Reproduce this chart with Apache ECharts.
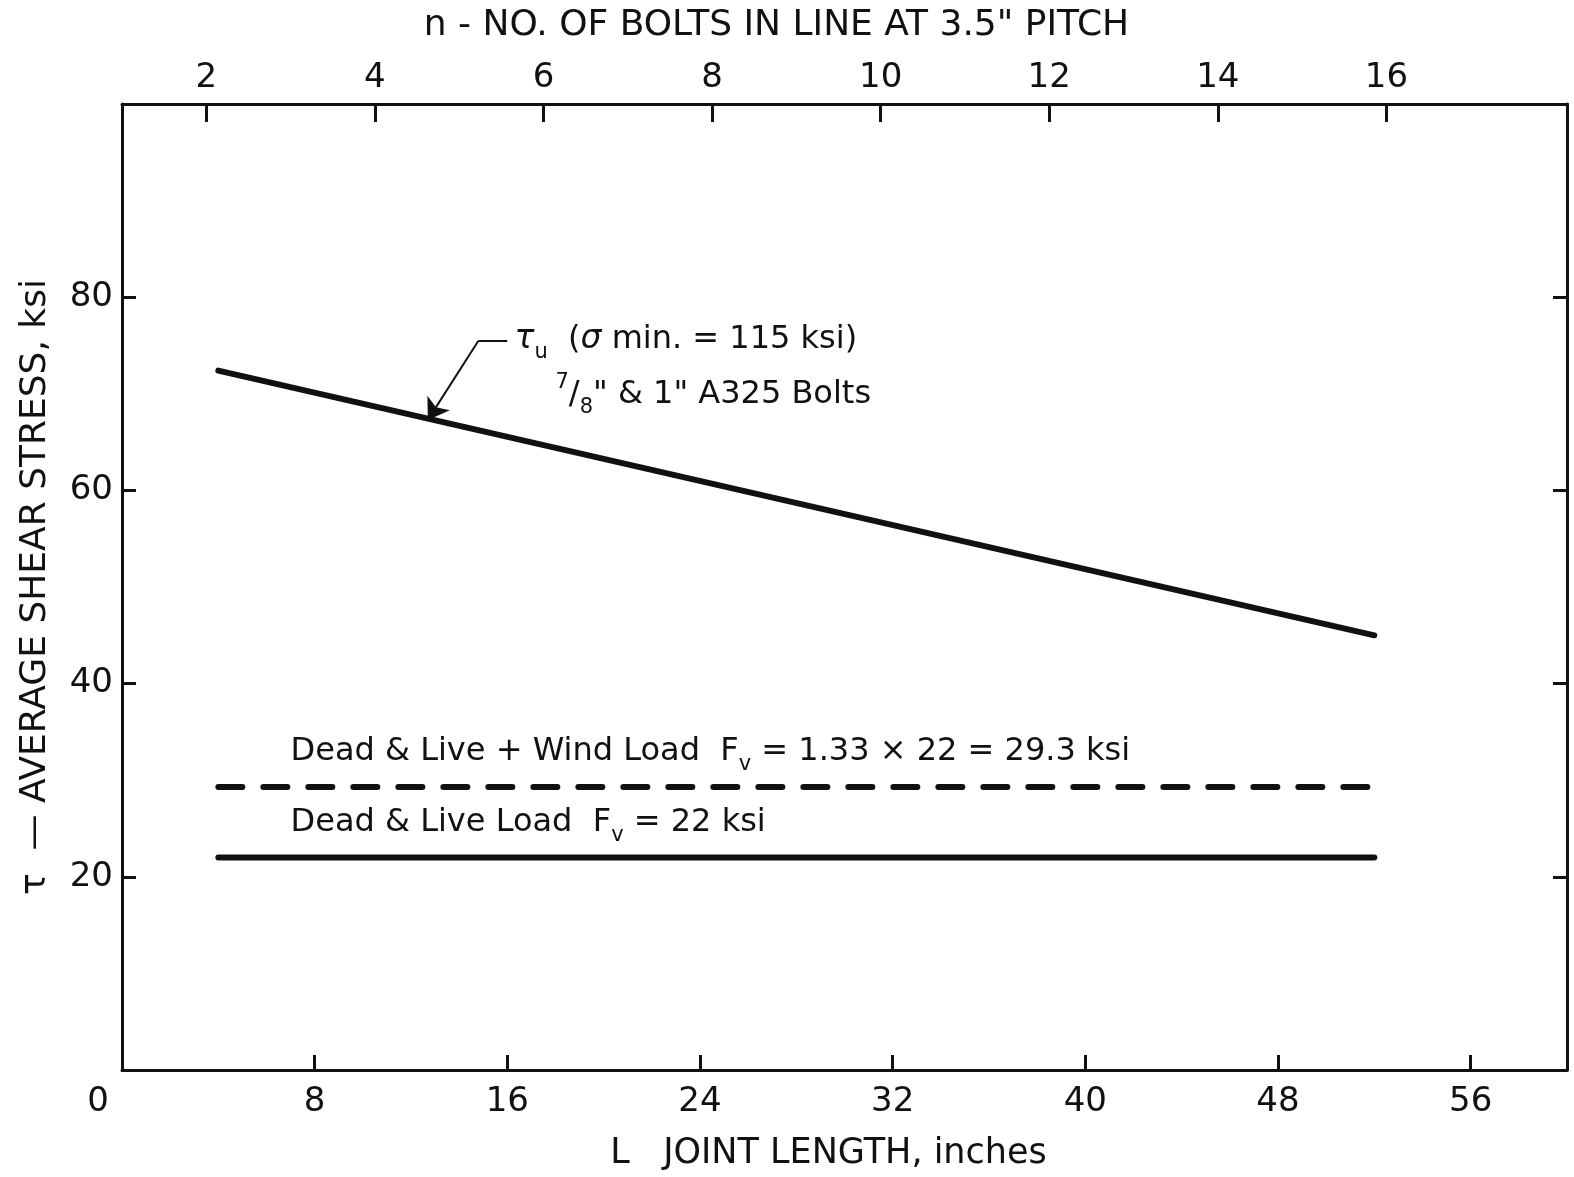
<!DOCTYPE html>
<html>
<head>
<meta charset="utf-8">
<title>Average shear stress vs joint length</title>
<script src="https://cdn.jsdelivr.net/npm/echarts@6/dist/echarts.min.js"></script>
<style>
  html, body { margin: 0; padding: 0; background: #fff; }
  #chart { width: 1574px; height: 1177px; }
</style>
</head>
<body>
<div id="chart"></div>
<script>
// joint length L (inches) at the ends of each line
const jointLength = [4, 52];
const tauUltimate = [72.4, 45.0];   // tau_u, 7/8" & 1" A325
const windLoadFv = [29.3, 29.3];    // 1.33 x 22
const deadLiveFv = [22, 22];
// top axis: bolts in line at 3.5" pitch
const boltCounts = [2, 4, 6, 8, 10, 12, 14, 16];
const pitch = 3.5;
const lengthMax = 60;

const font = '"DejaVu Sans", sans-serif';
const ink = '#111';

function pairs(xs, ys) {
  return xs.map((x, i) => [x, ys[i]]);
}

const axisLine = { show: true, onZero: false, lineStyle: { color: ink, width: 3 } };
const tickStyle = { color: ink, width: 3 };
const labelStyle = { fontFamily: font, fontSize: 34, color: ink };
const titleStyle = { fontFamily: font, fontSize: 35, color: ink };

const chart = echarts.init(document.getElementById('chart'));
chart.setOption({
  backgroundColor: '#fff',
  animation: false,
  grid: { left: 122, right: 7, top: 104, bottom: 107 },
  xAxis: [
    {
      type: 'value',
      position: 'bottom',
      min: 0,
      max: lengthMax,
      interval: 8,
      name: 'L   JOINT LENGTH, inches',
      nameLocation: 'middle',
      nameGap: 66,
      nameTextStyle: { ...titleStyle, padding: [0, 32, 0, 0] },
      axisLine: axisLine,
      axisTick: { show: true, inside: true, length: 15, lineStyle: tickStyle },
      axisLabel: {
        ...labelStyle,
        margin: 15,
        showMaxLabel: false,
        formatter: (v) => (v === 0 ? '{z|0}' : v >= lengthMax ? '' : String(v)),
        rich: { z: { ...labelStyle, padding: [0, 48, 0, 0] } },
      },
      splitLine: { show: false },
    },
    {
      type: 'value',
      position: 'top',
      min: 1,
      max: 1 + lengthMax / pitch,
      name: 'n - NO. OF BOLTS IN LINE AT 3.5" PITCH',
      nameLocation: 'middle',
      nameGap: 60,
      nameTextStyle: { ...titleStyle, fontSize: 36, padding: [0, 136, 0, 0] },
      axisLine: axisLine,
      axisTick: { show: true, inside: true, length: 18, lineStyle: tickStyle, customValues: boltCounts },
      axisLabel: { ...labelStyle, margin: 9, customValues: boltCounts },
      splitLine: { show: false },
    },
  ],
  yAxis: [
    {
      type: 'value',
      position: 'left',
      min: 0,
      max: 100,
      interval: 20,
      name: 'τ  — AVERAGE SHEAR STRESS, ksi',
      nameLocation: 'middle',
      nameGap: 68,
      nameRotate: 90,
      nameTextStyle: { ...titleStyle, fontSize: 36 },
      axisLine: axisLine,
      axisTick: { show: true, inside: true, length: 14, lineStyle: tickStyle },
      axisLabel: { ...labelStyle, margin: 9, showMinLabel: false, showMaxLabel: false },
      splitLine: { show: false },
    },
    {
      type: 'value',
      position: 'right',
      min: 0,
      max: 100,
      interval: 20,
      axisLine: axisLine,
      axisTick: { show: true, inside: true, length: 14, lineStyle: tickStyle },
      axisLabel: { show: false },
      splitLine: { show: false },
    },
  ],
  series: [
    {
      name: 'tau_u',
      type: 'line',
      data: pairs(jointLength, tauUltimate),
      symbol: 'none',
      lineStyle: { color: ink, width: 6, cap: 'round' },
      // leader arrow for the label
      markLine: {
        silent: true,
        label: { show: false },
        symbolSize: 20,
        lineStyle: { color: ink, width: 2, type: 'solid' },
        data: [
          [{ coord: [16.0, 75.5], symbol: 'none' }, { coord: [14.8, 75.5], symbol: 'none' }],
          [{ coord: [14.8, 75.5], symbol: 'none' }, { coord: [12.7, 67.3], symbol: 'arrow' }],
        ],
      },
    },
    {
      name: 'Dead & Live + Wind',
      type: 'line',
      data: pairs(jointLength, windLoadFv),
      symbol: 'none',
      lineStyle: { color: ink, width: 6, type: [24, 21], cap: 'round' },
    },
    {
      name: 'Dead & Live',
      type: 'line',
      data: pairs(jointLength, deadLiveFv),
      symbol: 'none',
      lineStyle: { color: ink, width: 6, cap: 'round' },
    },
    {
      name: 'notes',
      type: 'scatter',
      symbolSize: 0,
      silent: true,
      itemStyle: { opacity: 1, color: ink },
      label: {
        show: true,
        position: 'right',
        distance: 0,
        fontFamily: font,
        fontSize: 32,
        color: ink,
        rich: {
          sub: { fontFamily: font, fontSize: 21, color: ink, verticalAlign: 'bottom', lineHeight: 46 },
          sup: { fontFamily: font, fontSize: 21, color: ink, verticalAlign: 'top', lineHeight: 46 },
          tau: { fontFamily: font, fontSize: 33, fontStyle: 'italic', color: ink },
        },
      },
      data: [
        { value: [16.3, 75.6], label: { formatter: '{tau|τ}{sub|u}  ({tau|σ} min. = 115 ksi)' } },
        { value: [18.0, 69.9], label: { formatter: '{sup|7}/{sub|8}" & 1" A325 Bolts' } },
        { value: [7.0, 32.9], label: { formatter: 'Dead & Live + Wind Load  F{sub|v} = 1.33 × 22 = 29.3 ksi' } },
        { value: [7.0, 25.6], label: { formatter: 'Dead & Live Load  F{sub|v} = 22 ksi' } },
      ],
    },
  ],
});
</script>
</body>
</html>
